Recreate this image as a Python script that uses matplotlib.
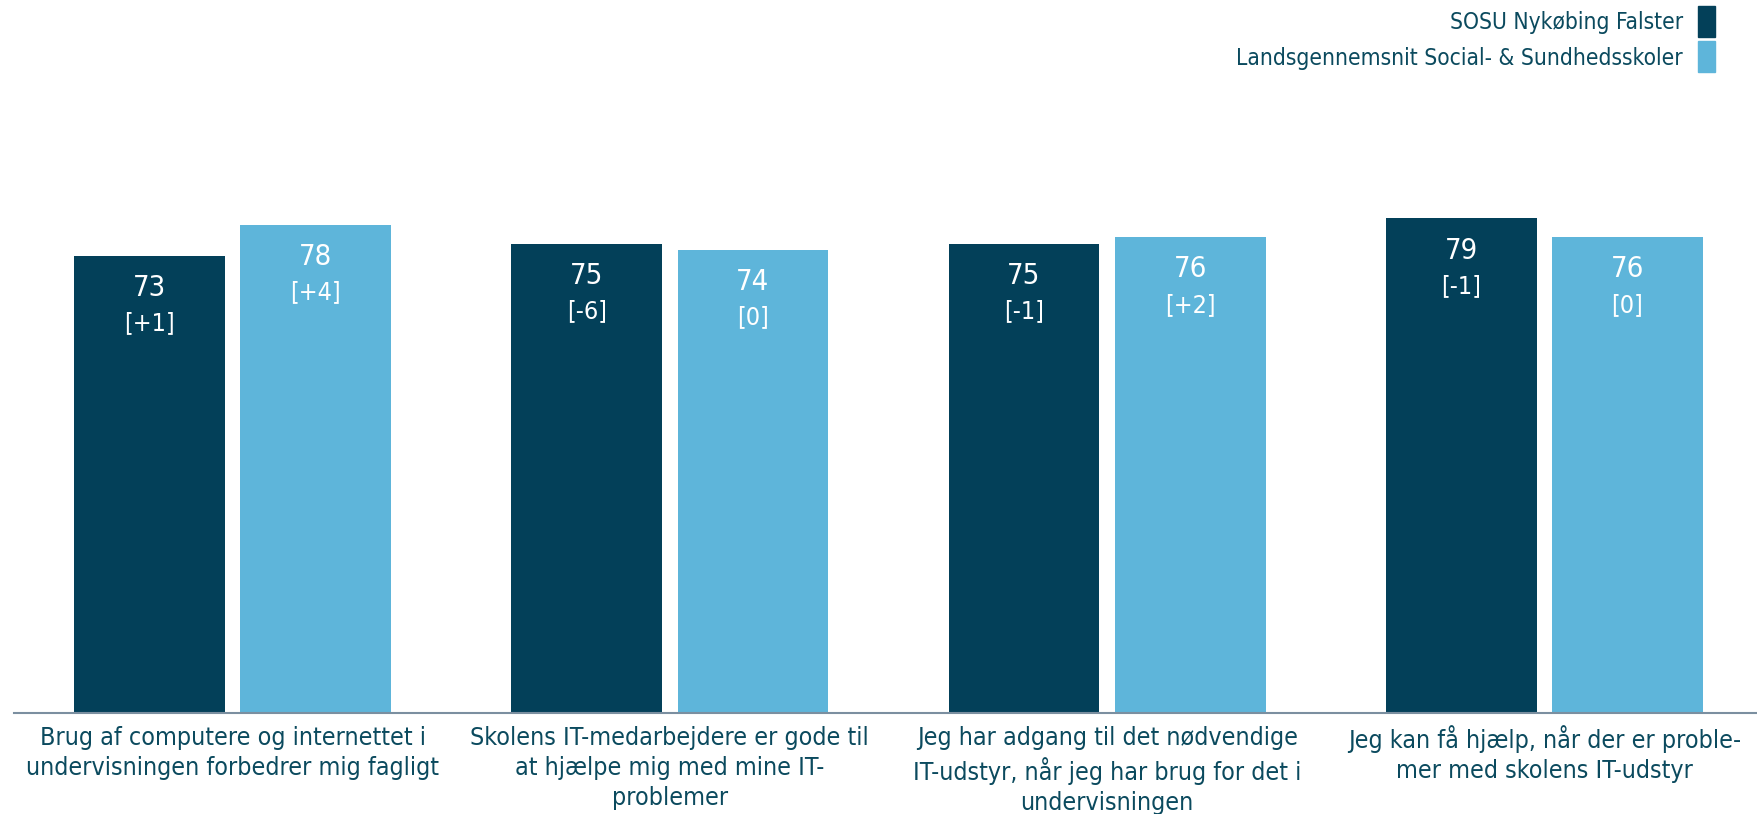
import numpy as np
import matplotlib.pyplot as plt
from matplotlib.patches import Rectangle

plt.rcParams['font.family'] = ['DejaVu Sans']
plt.rcParams['font.stretch'] = 'condensed'

# data
categories = [
    'Brug af computere og internettet i\nundervisningen forbedrer mig fagligt',
    'Skolens IT-medarbejdere er gode til\nat hjælpe mig med mine IT-\nproblemer',
    'Jeg har adgang til det nødvendige\nIT-udstyr, når jeg har brug for det i\nundervisningen',
    'Jeg kan få hjælp, når der er proble-\nmer med skolens IT-udstyr',
]
series_names = ['SOSU Nykøbing Falster', 'Landsgennemsnit Social- & Sundhedsskoler']
school = [73, 75, 75, 79]
school_diff = ['[+1]', '[-6]', '[-1]', '[-1]']
national = [78, 74, 76, 76]
national_diff = ['[+4]', '[0]', '[+2]', '[0]']

dark = '#034059'
light = '#5eb5da'
text_col = '#0b4a5e'

W, H = 1758, 814
fig = plt.figure(figsize=(W / 100, H / 100), dpi=100)
ax = fig.add_axes([14 / W, (H - 713) / H, 1749 / W, 626 / H])

x = np.arange(len(categories))
bw = 0.345
off = 0.19
b1 = ax.bar(x - off, school, bw, color=dark)
b2 = ax.bar(x + off, national, bw, color=light)

for bars, diffs in [(b1, school_diff), (b2, national_diff)]:
    for rect, d in zip(bars, diffs):
        cx = rect.get_x() + rect.get_width() / 2
        top = rect.get_height()
        ax.annotate(f'{top:.0f}', (cx, top), xytext=(0, -13), textcoords='offset points',
                    ha='center', va='top', color='white', fontsize=21)
        ax.annotate(d, (cx, top), xytext=(0, -40), textcoords='offset points',
                    ha='center', va='top', color='white', fontsize=18)

ax.set_xlim(-0.5, 3.5)
ax.set_ylim(0, 100)
ax.set_xticks(x)
ax.set_xticklabels(categories, fontsize=17.9, color=text_col, linespacing=1.32)
ax.tick_params(axis='x', length=0, pad=9)
ax.set_yticks([])
for s in ['top', 'right', 'left']:
    ax.spines[s].set_visible(False)
ax.spines['bottom'].set_color('#7b8fa0')
ax.spines['bottom'].set_linewidth(1.5)

# legend, top right
for i, (name, col) in enumerate(zip(series_names, [dark, light])):
    y0 = 6 + i * 35
    fig.patches.append(Rectangle((1698 / W, 1 - (y0 + 31) / H), 17 / W, 31 / H,
                                 transform=fig.transFigure, color=col))
    fig.text(1683 / W, 1 - (y0 + 17) / H, name, ha='right', va='center',
             fontsize=16.3, color=text_col)

fig.savefig('out.png', dpi=100)
